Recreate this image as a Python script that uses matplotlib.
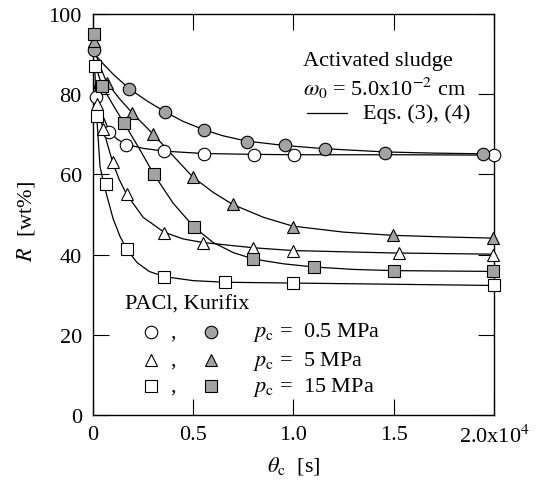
"""Recovery ratio R vs. consolidation time for activated sludge (PACl / Kurifix)."""
import matplotlib

matplotlib.use("Agg")
import matplotlib.pyplot as plt  # noqa: E402
from matplotlib.ticker import FixedLocator  # noqa: E402

# measured points, theta_c [s] and R [wt%]
pacl_05_t = [150, 810, 1650, 3540, 5540, 8030, 10040, 20000]
pacl_05_r = [79.4, 70.6, 67.4, 65.8, 65.1, 64.9, 64.9, 64.8]
kuri_05_t = [60, 1800, 3600, 5550, 7670, 9560, 11570, 14560, 19470]
kuri_05_r = [91.0, 81.4, 75.5, 71.0, 68.1, 67.3, 66.3, 65.4, 65.1]

pacl_5_t = [220, 510, 980, 1680, 3540, 5500, 7970, 9960, 15280, 19970]
pacl_5_r = [77.5, 71.3, 63.1, 55.0, 45.4, 42.9, 41.7, 40.8, 40.4, 40.0]
kuri_5_t = [60, 680, 1960, 3010, 4970, 6970, 9960, 14950, 19970]
kuri_5_r = [93.3, 82.9, 75.3, 70.0, 59.4, 52.5, 46.9, 44.8, 44.1]

pacl_15_t = [90, 180, 650, 1680, 3560, 6580, 9960, 20000]
pacl_15_r = [87.1, 74.6, 57.5, 41.4, 34.4, 33.1, 32.9, 32.3]
kuri_15_t = [60, 460, 1550, 3040, 5050, 8000, 11040, 15010, 19970]
kuri_15_r = [95.0, 82.0, 72.8, 60.0, 46.8, 38.9, 36.9, 36.0, 35.8]

# Eqs. (3), (4) curves
fit_pacl_05_t = [0, 200, 500, 810, 1200, 1650, 2500, 3540, 5540, 8000, 10000, 15000, 20000]
fit_pacl_05_r = [83, 79.4, 74.5, 70.8, 68.8, 67.5, 66.5, 65.8, 65.2, 65.0, 64.9, 64.9, 64.8]
fit_kuri_05_t = [0, 430, 1000, 1800, 2700, 3600, 4500, 5550, 6500, 7670, 9560, 11570,
                 14560, 17000, 20000]
fit_kuri_05_r = [90.5, 88, 85, 81.4, 78.3, 75.6, 73.2, 71.1, 69.6, 68.3, 67.2, 66.4,
                 65.6, 65.3, 65.1]
fit_pacl_5_t = [0, 200, 510, 750, 980, 1300, 1680, 2500, 3540, 4500, 5500, 8000, 10000,
                15000, 20000]
fit_pacl_5_r = [81, 77, 71.3, 67, 63.1, 58.8, 55, 49.3, 45.6, 43.9, 43, 41.7, 41, 40.4, 40.1]
fit_kuri_5_t = [0, 350, 680, 1300, 1960, 3010, 4000, 4970, 6000, 6970, 8500, 9960, 12500,
                14950, 17500, 20000]
fit_kuri_5_r = [92, 87, 83, 79, 75.3, 70, 64.6, 59.4, 55.5, 52.5, 49.3, 47.1, 45.6, 44.8,
                44.4, 44.1]
fit_pacl_15_t = [0, 100, 180, 350, 500, 650, 1000, 1350, 1680, 2200, 2800, 3560, 5000,
                 6580, 10000, 15000, 20000]
fit_pacl_15_r = [90, 85, 75, 62, 58.5, 55.5, 49, 44.5, 41.4, 38, 35.8, 34.5, 33.5, 33.1,
                 32.9, 32.6, 32.3]
fit_kuri_15_t = [0, 460, 1000, 1550, 2300, 3040, 4000, 5050, 6000, 7000, 8000, 9500, 11040,
                 13000, 15010, 20000]
fit_kuri_15_r = [89, 82, 77.3, 72.8, 66.5, 60, 52.8, 46.8, 43, 40.5, 38.9, 37.7, 36.9, 36.3,
                 36.0, 35.8]

x_ticks = [0, 5000, 10000, 15000, 20000]
x_tick_labels = ["0", "0.5", "1.0", "1.5", "2.0x10$^4$"]
y_ticks = [0, 20, 40, 60, 80, 100]
pressures = ["0.5", "5", "15"]

GREY = "#a3a3a3"


def main() -> None:
    plt.rcParams["font.family"] = ["Liberation Serif", "DejaVu Serif"]
    plt.rcParams["mathtext.fontset"] = "stix"
    plt.rcParams["font.size"] = 16

    fig = plt.figure(figsize=(5.46, 4.85), dpi=100)
    ax = fig.add_axes([0.1703, 0.1423, 0.7344, 0.8268])

    fits = [
        (fit_pacl_05_t, fit_pacl_05_r), (fit_kuri_05_t, fit_kuri_05_r),
        (fit_pacl_5_t, fit_pacl_5_r), (fit_kuri_5_t, fit_kuri_5_r),
        (fit_pacl_15_t, fit_pacl_15_r), (fit_kuri_15_t, fit_kuri_15_r),
    ]
    for t, r in fits:
        ax.plot(t, r, color="black", lw=0.9, zorder=2)

    series = [
        (pacl_05_t, pacl_05_r, "o", "white"), (kuri_05_t, kuri_05_r, "o", GREY),
        (pacl_5_t, pacl_5_r, "^", "white"), (kuri_5_t, kuri_5_r, "^", GREY),
        (pacl_15_t, pacl_15_r, "s", "white"), (kuri_15_t, kuri_15_r, "s", GREY),
    ]
    for t, r, m, fc in series:
        ax.plot(t, r, ls="none", marker=m, ms=9, mfc=fc, mec="black", mew=0.8,
                clip_on=False, zorder=3)

    ax.set_xlim(0, 20000)
    ax.set_ylim(0, 100)
    ax.xaxis.set_major_locator(FixedLocator(x_ticks))
    ax.set_xticklabels(x_tick_labels)
    ax.yaxis.set_major_locator(FixedLocator(y_ticks))
    ax.tick_params(direction="in", length=11.5, width=0.8, top=True, right=True,
                   labelsize=16)
    ax.tick_params(axis="y", pad=8)
    ax.tick_params(axis="x", pad=7)
    for s in ax.spines.values():
        s.set_linewidth(1.0)

    ax.set_xlabel(r"$\theta_\mathrm{c}$  [s]", fontsize=16)
    ax.set_ylabel(r"$R$  [wt%]", fontsize=16)
    ax.xaxis.set_label_coords(0.5, -0.097)
    ax.yaxis.set_label_coords(-0.14, 0.485)

    # upper-right note
    tr = ax.transAxes
    ax.text(0.524, 0.883, "Activated sludge", transform=tr, va="center", ha="left")
    ax.text(0.524, 0.818, r"$\omega_0$ = 5.0x10$^{\mathrm{-2}}$ cm", transform=tr,
            va="center", ha="left")
    ax.plot([0.534, 0.633], [0.753, 0.753], color="black", lw=0.9, transform=tr)
    ax.text(0.673, 0.753, "Eqs. (3), (4)", transform=tr, va="center", ha="left")

    # lower-left key
    ax.text(0.08, 0.277, "PACl, Kurifix", transform=tr, va="center", ha="left")
    rows_y = [0.207, 0.137, 0.072]
    for (m, p, yy) in zip(["o", "^", "s"], pressures, rows_y):
        ax.plot([0.1446], [yy], marker=m, ms=9, mfc="white", mec="black", mew=0.8,
                transform=tr)
        ax.text(0.2, yy, ",", transform=tr, va="center", ha="center")
        ax.plot([0.294], [yy], marker=m, ms=9, mfc=GREY, mec="black", mew=0.8,
                transform=tr)
        ax.text(0.399, yy, r"$p_\mathrm{c}$ =  " + p + " MPa", transform=tr,
                va="center", ha="left")

    fig.savefig("out.png", dpi=100)
    plt.close(fig)


if __name__ == "__main__":
    main()
